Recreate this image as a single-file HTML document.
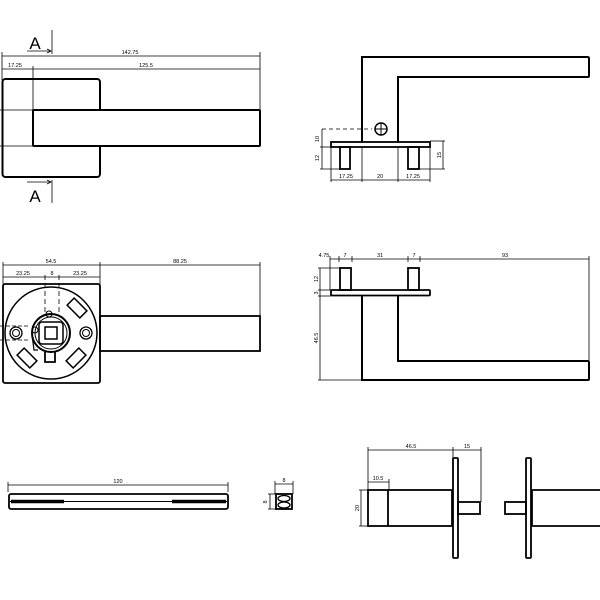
<!DOCTYPE html>
<html><head><meta charset="utf-8"><style>html,body{margin:0;padding:0;background:#fff}svg{display:block}</style></head>
<body>
<svg width="600" height="600" viewBox="0 0 600 600" xmlns="http://www.w3.org/2000/svg" font-family="Liberation Sans, sans-serif">
<defs>
<marker id="t" viewBox="0 0 4 4" refX="2" refY="2" markerWidth="4" markerHeight="4"><circle cx="2" cy="2" r="1.2" fill="#000"/></marker>
</defs>
<g fill="none" stroke="#000">
<!-- VIEW 1 -->
<g stroke-width="0.8">
<line x1="52" y1="30" x2="52" y2="54"/><line x1="27" y1="51" x2="51" y2="51"/><path d="M47 49 L51 51 L47 53" />
<line x1="52" y1="180" x2="52" y2="203"/><line x1="27" y1="182" x2="51" y2="182"/><path d="M47 180 L51 182 L47 184"/>
<line x1="2" y1="56" x2="260" y2="56"/><line x1="2" y1="69" x2="260" y2="69"/>
<line x1="2" y1="52" x2="2" y2="80"/><line x1="260" y1="52" x2="260" y2="110"/>
<line x1="33" y1="66" x2="33" y2="110"/>
<line x1="0" y1="110" x2="33" y2="110"/><line x1="0" y1="146" x2="33" y2="146"/>
</g>
<rect x="2.5" y="79" width="97.5" height="98" rx="3" stroke-width="2"/>
<rect x="33" y="110" width="227" height="36" rx="1" stroke-width="2" fill="#fff"/>
<!-- VIEW 2 -->
<path d="M362 142 V57 H588 Q589 57 589 59 V76 Q589 77 588 77 H398 V142" stroke-width="2"/>
<rect x="331" y="142" width="99" height="5" stroke-width="1.8"/>
<rect x="340" y="147" width="10" height="22" stroke-width="1.8"/>
<rect x="408" y="147" width="11" height="22" stroke-width="1.8"/>
<circle cx="381" cy="129" r="6" stroke-width="1.5"/>
<line x1="375" y1="129" x2="387" y2="129" stroke-width="1"/><line x1="381" y1="123" x2="381" y2="135" stroke-width="1"/>
<g stroke-width="0.8">
<line x1="322" y1="129" x2="372" y2="129" stroke-dasharray="4,3"/>
<line x1="322" y1="129" x2="322" y2="169"/><line x1="320" y1="147" x2="331" y2="147"/><line x1="320" y1="169" x2="340" y2="169"/>
<line x1="443" y1="141" x2="443" y2="169"/><line x1="430" y1="141" x2="445" y2="141"/><line x1="419" y1="169" x2="445" y2="169"/>
<line x1="331" y1="180" x2="430" y2="180"/>
<line x1="331" y1="147" x2="331" y2="182"/><line x1="362" y1="147" x2="362" y2="182"/><line x1="398" y1="147" x2="398" y2="182"/><line x1="430" y1="147" x2="430" y2="182"/>
</g>
<!-- VIEW 3 -->
<g stroke-width="0.8">
<line x1="3" y1="265" x2="260" y2="265"/><line x1="3" y1="277" x2="100" y2="277"/>
<line x1="3" y1="262" x2="3" y2="284"/><line x1="100" y1="262" x2="100" y2="284"/><line x1="260" y1="262" x2="260" y2="316"/>
<line x1="45" y1="275" x2="45" y2="315" stroke-dasharray="5,3"/><line x1="59" y1="275" x2="59" y2="315" stroke-dasharray="5,3"/>
<line x1="0" y1="326" x2="28" y2="326" stroke-dasharray="4,2"/><line x1="0" y1="340" x2="28" y2="340" stroke-dasharray="4,2"/>
</g>
<rect x="3" y="284" width="97" height="99" rx="2" stroke-width="1.8"/>
<rect x="100" y="316" width="160" height="35" stroke-width="1.8"/>
<circle cx="51" cy="333" r="46" stroke-width="1.5"/>
<circle cx="16" cy="333" r="6" stroke-width="1.3"/><circle cx="16" cy="333" r="3.5" stroke-width="1"/>
<circle cx="86" cy="333" r="6" stroke-width="1.3"/><circle cx="86" cy="333" r="3.5" stroke-width="1"/>
<circle cx="51" cy="333" r="19" stroke-width="2"/><circle cx="51" cy="333" r="16" stroke-width="1"/>
<rect x="39" y="322" width="24" height="22" rx="3" stroke-width="1.5"/>
<rect x="45" y="327" width="12" height="12" stroke-width="1.5"/>
<circle cx="35" cy="330" r="3" stroke-width="1"/><circle cx="49" cy="314" r="3" stroke-width="1"/>
<path d="M32 335 L34 350 L38 350" stroke-width="1.2"/>
<path d="M45 352 V362 H55 V352" stroke-width="1.8"/>
<g stroke-width="1.5">
<rect x="-5" y="-9" width="10" height="18" transform="translate(77,308) rotate(-45)"/>
<rect x="-5" y="-9" width="10" height="18" transform="translate(76,358) rotate(45)"/>
<rect x="-5" y="-9" width="10" height="18" transform="translate(27,358) rotate(-45)"/>
</g>
<!-- VIEW 4 -->
<rect x="340" y="268" width="11" height="22" stroke-width="1.8"/>
<rect x="408" y="268" width="11" height="22" stroke-width="1.8"/>
<rect x="331" y="290" width="99" height="5.5" rx="1" stroke-width="1.8"/>
<path d="M398 296 V361 H588 Q589 361 589 363 V379 Q589 380 588 380 H362 V296" stroke-width="2"/>
<g stroke-width="0.8">
<line x1="330" y1="259" x2="589" y2="259"/>
<line x1="330" y1="256" x2="330" y2="290"/><line x1="339" y1="256" x2="339" y2="262"/><line x1="352" y1="256" x2="352" y2="262"/>
<line x1="408" y1="256" x2="408" y2="262"/><line x1="420" y1="256" x2="420" y2="262"/><line x1="589" y1="256" x2="589" y2="361"/>
<line x1="320" y1="268" x2="320" y2="380"/>
<line x1="318" y1="268" x2="340" y2="268"/><line x1="318" y1="290" x2="331" y2="290"/><line x1="318" y1="296" x2="331" y2="296"/><line x1="318" y1="380" x2="362" y2="380"/>
</g>
<!-- VIEW 5 -->
<line x1="8" y1="485" x2="228" y2="485" stroke-width="0.8"/>
<line x1="8" y1="482" x2="8" y2="492" stroke-width="0.8"/><line x1="228" y1="482" x2="228" y2="492" stroke-width="0.8"/>
<rect x="9" y="494" width="219" height="15" rx="2" stroke-width="1.8"/>
<line x1="10" y1="501.5" x2="227" y2="501.5" stroke-width="1"/>
<line x1="11" y1="501.5" x2="64" y2="501.5" stroke-width="3.5"/>
<line x1="172" y1="501.5" x2="226" y2="501.5" stroke-width="3.5"/>
<rect x="276" y="494" width="16" height="15" stroke-width="1.8"/>
<ellipse cx="284" cy="498.5" rx="6" ry="3" stroke-width="1.3"/>
<ellipse cx="284" cy="505" rx="6" ry="3" stroke-width="1.3"/>
<g stroke-width="0.8">
<line x1="275" y1="484" x2="293" y2="484"/><line x1="275" y1="481" x2="275" y2="494"/><line x1="293" y1="481" x2="293" y2="494"/>
<line x1="270" y1="494" x2="270" y2="509"/><line x1="268" y1="494" x2="276" y2="494"/><line x1="268" y1="509" x2="276" y2="509"/>
</g>
<!-- VIEW 6 -->
<rect x="368" y="490" width="84" height="36" stroke-width="1.8"/>
<line x1="388" y1="490" x2="388" y2="526" stroke-width="1.8"/>
<rect x="453" y="458" width="5" height="100" rx="1" stroke-width="1.8"/>
<rect x="458" y="502" width="22" height="12" stroke-width="1.8"/>
<rect x="526" y="458" width="5" height="100" rx="1" stroke-width="1.8"/>
<rect x="505" y="502" width="21" height="12" stroke-width="1.8"/>
<path d="M600 490 H532 V526 H600" stroke-width="1.8"/>
<g stroke-width="0.8">
<line x1="368" y1="450" x2="481" y2="450"/>
<line x1="368" y1="447" x2="368" y2="490"/><line x1="453" y1="447" x2="453" y2="458"/><line x1="481" y1="447" x2="481" y2="502"/>
<line x1="368" y1="482" x2="389" y2="482"/><line x1="389" y1="479" x2="389" y2="490"/>
<line x1="361" y1="490" x2="361" y2="526"/><line x1="359" y1="490" x2="368" y2="490"/><line x1="359" y1="526" x2="368" y2="526"/>
</g>
</g>
<g fill="#000" font-size="5.5" text-anchor="middle">
<text x="35" y="49" font-size="17">A</text>
<text x="35" y="202" font-size="17">A</text>
<text x="130" y="54">142.75</text>
<text x="15" y="67">17.25</text>
<text x="146" y="67">125.5</text>
<text x="346" y="178">17.25</text><text x="380" y="178">20</text><text x="413" y="178">17.25</text>
<text transform="translate(319,139) rotate(-90)">10</text>
<text transform="translate(319,158) rotate(-90)">12</text>
<text transform="translate(441,155) rotate(-90)">15</text>
<text x="51" y="263">54.5</text><text x="180" y="263">88.25</text>
<text x="23" y="275">23.25</text><text x="52" y="275">8</text><text x="80" y="275">23.25</text>
<text x="324" y="257">4.75</text><text x="345" y="257">7</text><text x="380" y="257">31</text><text x="414" y="257">7</text><text x="505" y="257">93</text>
<text transform="translate(318,279) rotate(-90)">12</text>
<text transform="translate(318,293) rotate(-90)">3</text>
<text transform="translate(318,338) rotate(-90)">46.5</text>
<text x="118" y="483">120</text>
<text x="284" y="482">8</text>
<text transform="translate(267,502) rotate(-90)">8</text>
<text x="411" y="448">46.5</text><text x="467" y="448">15</text>
<text x="378" y="480">10.5</text>
<text transform="translate(359,508) rotate(-90)">20</text>
</g>
</svg>
</body></html>
